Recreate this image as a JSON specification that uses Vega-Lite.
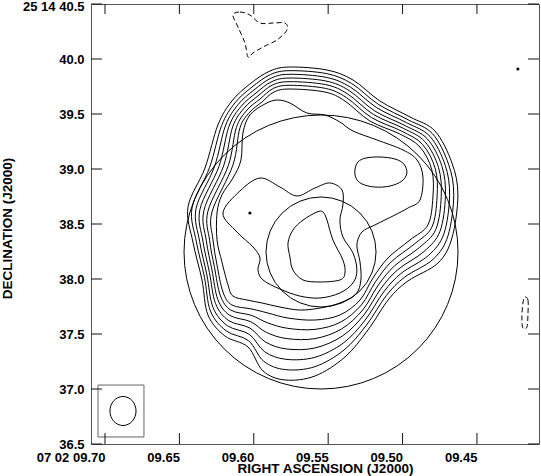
{
"$schema": "https://vega.github.io/schema/vega-lite/v6.json",
"width": 448, "height": 440,
"autosize": "none",
"padding": {"left": 91, "top": 4, "right": 2, "bottom": 32},
"background": "white",
"config": {"view": {"stroke": "#555", "strokeWidth": 1},
  "axis": {"labelFont": "Liberation Sans", "labelFontWeight": "bold", "labelFontSize": 13, "labelColor": "#000", "titleFont": "Liberation Sans", "titleFontWeight": "bold", "titleFontSize": 13.5, "titleColor": "#000", "grid": false, "domain": false, "ticks": false, "labelOverlap": false, "labelBound": false, "labelFlush": false}},
"datasets": {
 "tk": [
{"side":"h","v":9.70},{"side":"h","v":9.65},{"side":"h","v":9.60},{"side":"h","v":9.55},{"side":"h","v":9.50},{"side":"h","v":9.45},
{"side":"v","v":36.5},{"side":"v","v":37.0},{"side":"v","v":37.5},{"side":"v","v":38.0},{"side":"v","v":38.5},{"side":"v","v":39.0},{"side":"v","v":39.5},{"side":"v","v":40.0},{"side":"v","v":40.5}
 ],
 "cont": [
{"c":1,"i":1,"ra":9.6442,"dec":38.655},{"c":1,"i":2,"ra":9.6328,"dec":39.009},{"c":1,"i":3,"ra":9.6241,"dec":39.400},{"c":1,"i":4,"ra":9.6147,"dec":39.618},{"c":1,"i":5,"ra":9.6026,"dec":39.773},{"c":1,"i":6,"ra":9.5891,"dec":39.891},{"c":1,"i":7,"ra":9.5757,"dec":39.927},{"c":1,"i":8,"ra":9.5508,"dec":39.900},{"c":1,"i":9,"ra":9.5333,"dec":39.809},{"c":1,"i":10,"ra":9.5152,"dec":39.618},{"c":1,"i":11,"ra":9.4950,"dec":39.473},{"c":1,"i":12,"ra":9.4782,"dec":39.345},{"c":1,"i":13,"ra":9.4668,"dec":39.055},{"c":1,"i":14,"ra":9.4628,"dec":38.764},{"c":1,"i":15,"ra":9.4668,"dec":38.373},{"c":1,"i":16,"ra":9.4762,"dec":38.145},{"c":1,"i":17,"ra":9.4964,"dec":37.982},{"c":1,"i":18,"ra":9.5092,"dec":37.818},{"c":1,"i":19,"ra":9.5233,"dec":37.536},{"c":1,"i":20,"ra":9.5387,"dec":37.291},{"c":1,"i":21,"ra":9.5589,"dec":37.118},{"c":1,"i":22,"ra":9.5790,"dec":37.082},{"c":1,"i":23,"ra":9.5938,"dec":37.164},{"c":1,"i":24,"ra":9.6039,"dec":37.382},{"c":1,"i":25,"ra":9.6194,"dec":37.482},{"c":1,"i":26,"ra":9.6308,"dec":37.673},{"c":1,"i":27,"ra":9.6348,"dec":37.991},{"c":1,"i":28,"ra":9.6409,"dec":38.336},
{"c":2,"i":1,"ra":9.6415,"dec":38.647},{"c":2,"i":2,"ra":9.6297,"dec":39.014},{"c":2,"i":3,"ra":9.6216,"dec":39.395},{"c":2,"i":4,"ra":9.6126,"dec":39.602},{"c":2,"i":5,"ra":9.6012,"dec":39.745},{"c":2,"i":6,"ra":9.5887,"dec":39.859},{"c":2,"i":7,"ra":9.5757,"dec":39.894},{"c":2,"i":8,"ra":9.5510,"dec":39.867},{"c":2,"i":9,"ra":9.5342,"dec":39.777},{"c":2,"i":10,"ra":9.5163,"dec":39.588},{"c":2,"i":11,"ra":9.4962,"dec":39.447},{"c":2,"i":12,"ra":9.4799,"dec":39.321},{"c":2,"i":13,"ra":9.4691,"dec":39.044},{"c":2,"i":14,"ra":9.4656,"dec":38.761},{"c":2,"i":15,"ra":9.4695,"dec":38.392},{"c":2,"i":16,"ra":9.4794,"dec":38.180},{"c":2,"i":17,"ra":9.4986,"dec":38.017},{"c":2,"i":18,"ra":9.5109,"dec":37.850},{"c":2,"i":19,"ra":9.5242,"dec":37.582},{"c":2,"i":20,"ra":9.5393,"dec":37.355},{"c":2,"i":21,"ra":9.5589,"dec":37.203},{"c":2,"i":22,"ra":9.5787,"dec":37.176},{"c":2,"i":23,"ra":9.5933,"dec":37.252},{"c":2,"i":24,"ra":9.6035,"dec":37.439},{"c":2,"i":25,"ra":9.6186,"dec":37.529},{"c":2,"i":26,"ra":9.6291,"dec":37.708},{"c":2,"i":27,"ra":9.6331,"dec":38.014},{"c":2,"i":28,"ra":9.6386,"dec":38.339},
{"c":3,"i":1,"ra":9.6388,"dec":38.640},{"c":3,"i":2,"ra":9.6265,"dec":39.018},{"c":3,"i":3,"ra":9.6191,"dec":39.391},{"c":3,"i":4,"ra":9.6106,"dec":39.585},{"c":3,"i":5,"ra":9.5999,"dec":39.718},{"c":3,"i":6,"ra":9.5882,"dec":39.827},{"c":3,"i":7,"ra":9.5757,"dec":39.861},{"c":3,"i":8,"ra":9.5513,"dec":39.833},{"c":3,"i":9,"ra":9.5351,"dec":39.745},{"c":3,"i":10,"ra":9.5174,"dec":39.558},{"c":3,"i":11,"ra":9.4973,"dec":39.421},{"c":3,"i":12,"ra":9.4816,"dec":39.297},{"c":3,"i":13,"ra":9.4713,"dec":39.033},{"c":3,"i":14,"ra":9.4684,"dec":38.758},{"c":3,"i":15,"ra":9.4722,"dec":38.412},{"c":3,"i":16,"ra":9.4825,"dec":38.215},{"c":3,"i":17,"ra":9.5009,"dec":38.052},{"c":3,"i":18,"ra":9.5127,"dec":37.882},{"c":3,"i":19,"ra":9.5251,"dec":37.627},{"c":3,"i":20,"ra":9.5398,"dec":37.418},{"c":3,"i":21,"ra":9.5589,"dec":37.288},{"c":3,"i":22,"ra":9.5784,"dec":37.270},{"c":3,"i":23,"ra":9.5927,"dec":37.339},{"c":3,"i":24,"ra":9.6030,"dec":37.497},{"c":3,"i":25,"ra":9.6178,"dec":37.576},{"c":3,"i":26,"ra":9.6274,"dec":37.742},{"c":3,"i":27,"ra":9.6315,"dec":38.036},{"c":3,"i":28,"ra":9.6364,"dec":38.342},
{"c":4,"i":1,"ra":9.6362,"dec":38.632},{"c":4,"i":2,"ra":9.6234,"dec":39.023},{"c":4,"i":3,"ra":9.6167,"dec":39.386},{"c":4,"i":4,"ra":9.6086,"dec":39.568},{"c":4,"i":5,"ra":9.5985,"dec":39.691},{"c":4,"i":6,"ra":9.5878,"dec":39.795},{"c":4,"i":7,"ra":9.5757,"dec":39.827},{"c":4,"i":8,"ra":9.5515,"dec":39.800},{"c":4,"i":9,"ra":9.5360,"dec":39.714},{"c":4,"i":10,"ra":9.5186,"dec":39.527},{"c":4,"i":11,"ra":9.4984,"dec":39.395},{"c":4,"i":12,"ra":9.4833,"dec":39.273},{"c":4,"i":13,"ra":9.4735,"dec":39.023},{"c":4,"i":14,"ra":9.4712,"dec":38.755},{"c":4,"i":15,"ra":9.4749,"dec":38.432},{"c":4,"i":16,"ra":9.4856,"dec":38.250},{"c":4,"i":17,"ra":9.5031,"dec":38.086},{"c":4,"i":18,"ra":9.5145,"dec":37.914},{"c":4,"i":19,"ra":9.5260,"dec":37.673},{"c":4,"i":20,"ra":9.5404,"dec":37.482},{"c":4,"i":21,"ra":9.5589,"dec":37.373},{"c":4,"i":22,"ra":9.5780,"dec":37.364},{"c":4,"i":23,"ra":9.5921,"dec":37.427},{"c":4,"i":24,"ra":9.6026,"dec":37.554},{"c":4,"i":25,"ra":9.6170,"dec":37.623},{"c":4,"i":26,"ra":9.6257,"dec":37.777},{"c":4,"i":27,"ra":9.6298,"dec":38.059},{"c":4,"i":28,"ra":9.6342,"dec":38.345},
{"c":5,"i":1,"ra":9.6335,"dec":38.624},{"c":5,"i":2,"ra":9.6203,"dec":39.027},{"c":5,"i":3,"ra":9.6142,"dec":39.382},{"c":5,"i":4,"ra":9.6066,"dec":39.552},{"c":5,"i":5,"ra":9.5972,"dec":39.664},{"c":5,"i":6,"ra":9.5873,"dec":39.764},{"c":5,"i":7,"ra":9.5757,"dec":39.794},{"c":5,"i":8,"ra":9.5517,"dec":39.767},{"c":5,"i":9,"ra":9.5369,"dec":39.682},{"c":5,"i":10,"ra":9.5197,"dec":39.497},{"c":5,"i":11,"ra":9.4995,"dec":39.370},{"c":5,"i":12,"ra":9.4850,"dec":39.249},{"c":5,"i":13,"ra":9.4758,"dec":39.012},{"c":5,"i":14,"ra":9.4740,"dec":38.752},{"c":5,"i":15,"ra":9.4776,"dec":38.452},{"c":5,"i":16,"ra":9.4888,"dec":38.285},{"c":5,"i":17,"ra":9.5053,"dec":38.121},{"c":5,"i":18,"ra":9.5163,"dec":37.945},{"c":5,"i":19,"ra":9.5268,"dec":37.718},{"c":5,"i":20,"ra":9.5410,"dec":37.546},{"c":5,"i":21,"ra":9.5589,"dec":37.458},{"c":5,"i":22,"ra":9.5777,"dec":37.458},{"c":5,"i":23,"ra":9.5916,"dec":37.515},{"c":5,"i":24,"ra":9.6021,"dec":37.612},{"c":5,"i":25,"ra":9.6162,"dec":37.670},{"c":5,"i":26,"ra":9.6241,"dec":37.812},{"c":5,"i":27,"ra":9.6281,"dec":38.082},{"c":5,"i":28,"ra":9.6319,"dec":38.348},
{"c":6,"i":1,"ra":9.6308,"dec":38.617},{"c":6,"i":2,"ra":9.6171,"dec":39.032},{"c":6,"i":3,"ra":9.6117,"dec":39.377},{"c":6,"i":4,"ra":9.6046,"dec":39.535},{"c":6,"i":5,"ra":9.5958,"dec":39.636},{"c":6,"i":6,"ra":9.5869,"dec":39.732},{"c":6,"i":7,"ra":9.5757,"dec":39.761},{"c":6,"i":8,"ra":9.5519,"dec":39.733},{"c":6,"i":9,"ra":9.5378,"dec":39.650},{"c":6,"i":10,"ra":9.5208,"dec":39.467},{"c":6,"i":11,"ra":9.5006,"dec":39.344},{"c":6,"i":12,"ra":9.4866,"dec":39.224},{"c":6,"i":13,"ra":9.4780,"dec":39.002},{"c":6,"i":14,"ra":9.4768,"dec":38.748},{"c":6,"i":15,"ra":9.4803,"dec":38.471},{"c":6,"i":16,"ra":9.4919,"dec":38.320},{"c":6,"i":17,"ra":9.5076,"dec":38.156},{"c":6,"i":18,"ra":9.5181,"dec":37.977},{"c":6,"i":19,"ra":9.5277,"dec":37.764},{"c":6,"i":20,"ra":9.5415,"dec":37.609},{"c":6,"i":21,"ra":9.5589,"dec":37.542},{"c":6,"i":22,"ra":9.5774,"dec":37.552},{"c":6,"i":23,"ra":9.5910,"dec":37.603},{"c":6,"i":24,"ra":9.6017,"dec":37.670},{"c":6,"i":25,"ra":9.6154,"dec":37.717},{"c":6,"i":26,"ra":9.6224,"dec":37.847},{"c":6,"i":27,"ra":9.6264,"dec":38.105},{"c":6,"i":28,"ra":9.6297,"dec":38.352},
{"c":7,"i":1,"ra":9.6281,"dec":38.609},{"c":7,"i":2,"ra":9.6140,"dec":39.036},{"c":7,"i":3,"ra":9.6093,"dec":39.373},{"c":7,"i":4,"ra":9.6026,"dec":39.518},{"c":7,"i":5,"ra":9.5945,"dec":39.609},{"c":7,"i":6,"ra":9.5864,"dec":39.700},{"c":7,"i":7,"ra":9.5757,"dec":39.727},{"c":7,"i":8,"ra":9.5522,"dec":39.700},{"c":7,"i":9,"ra":9.5387,"dec":39.618},{"c":7,"i":10,"ra":9.5219,"dec":39.436},{"c":7,"i":11,"ra":9.5018,"dec":39.318},{"c":7,"i":12,"ra":9.4883,"dec":39.200},{"c":7,"i":13,"ra":9.4803,"dec":38.991},{"c":7,"i":14,"ra":9.4796,"dec":38.745},{"c":7,"i":15,"ra":9.4830,"dec":38.491},{"c":7,"i":16,"ra":9.4950,"dec":38.355},{"c":7,"i":17,"ra":9.5098,"dec":38.191},{"c":7,"i":18,"ra":9.5199,"dec":38.009},{"c":7,"i":19,"ra":9.5286,"dec":37.809},{"c":7,"i":20,"ra":9.5421,"dec":37.673},{"c":7,"i":21,"ra":9.5589,"dec":37.627},{"c":7,"i":22,"ra":9.5770,"dec":37.645},{"c":7,"i":23,"ra":9.5905,"dec":37.691},{"c":7,"i":24,"ra":9.6012,"dec":37.727},{"c":7,"i":25,"ra":9.6147,"dec":37.764},{"c":7,"i":26,"ra":9.6207,"dec":37.882},{"c":7,"i":27,"ra":9.6247,"dec":38.127},{"c":7,"i":28,"ra":9.6274,"dec":38.355},
{"c":8,"i":1,"ra":9.6247,"dec":38.600},{"c":8,"i":2,"ra":9.6214,"dec":38.764},{"c":8,"i":3,"ra":9.6140,"dec":38.918},{"c":8,"i":4,"ra":9.6086,"dec":39.082},{"c":8,"i":5,"ra":9.6073,"dec":39.327},{"c":8,"i":6,"ra":9.6026,"dec":39.491},{"c":8,"i":7,"ra":9.5925,"dec":39.591},{"c":8,"i":8,"ra":9.5844,"dec":39.627},{"c":8,"i":9,"ra":9.5757,"dec":39.600},{"c":8,"i":10,"ra":9.5643,"dec":39.509},{"c":8,"i":11,"ra":9.5522,"dec":39.491},{"c":8,"i":12,"ra":9.5421,"dec":39.427},{"c":8,"i":13,"ra":9.5333,"dec":39.345},{"c":8,"i":14,"ra":9.5172,"dec":39.264},{"c":8,"i":15,"ra":9.4997,"dec":39.173},{"c":8,"i":16,"ra":9.4903,"dec":39.082},{"c":8,"i":17,"ra":9.4863,"dec":38.927},{"c":8,"i":18,"ra":9.4883,"dec":38.718},{"c":8,"i":19,"ra":9.4964,"dec":38.645},{"c":8,"i":20,"ra":9.5051,"dec":38.582},{"c":8,"i":21,"ra":9.5186,"dec":38.491},{"c":8,"i":22,"ra":9.5273,"dec":38.427},{"c":8,"i":23,"ra":9.5307,"dec":38.309},{"c":8,"i":24,"ra":9.5286,"dec":38.155},{"c":8,"i":25,"ra":9.5280,"dec":37.991},{"c":8,"i":26,"ra":9.5313,"dec":37.864},{"c":8,"i":27,"ra":9.5421,"dec":37.782},{"c":8,"i":28,"ra":9.5555,"dec":37.736},{"c":8,"i":29,"ra":9.5690,"dec":37.718},{"c":8,"i":30,"ra":9.5824,"dec":37.745},{"c":8,"i":31,"ra":9.5945,"dec":37.782},{"c":8,"i":32,"ra":9.6046,"dec":37.809},{"c":8,"i":33,"ra":9.6140,"dec":37.845},{"c":8,"i":34,"ra":9.6173,"dec":37.945},{"c":8,"i":35,"ra":9.6214,"dec":38.155},{"c":8,"i":36,"ra":9.6247,"dec":38.355},
{"c":9,"i":1,"ra":9.6207,"dec":38.600},{"c":9,"i":2,"ra":9.6093,"dec":38.800},{"c":9,"i":3,"ra":9.5958,"dec":38.918},{"c":9,"i":4,"ra":9.5824,"dec":38.836},{"c":9,"i":5,"ra":9.5710,"dec":38.755},{"c":9,"i":6,"ra":9.5589,"dec":38.827},{"c":9,"i":7,"ra":9.5488,"dec":38.873},{"c":9,"i":8,"ra":9.5407,"dec":38.809},{"c":9,"i":9,"ra":9.5401,"dec":38.673},{"c":9,"i":10,"ra":9.5421,"dec":38.536},{"c":9,"i":11,"ra":9.5401,"dec":38.382},{"c":9,"i":12,"ra":9.5333,"dec":38.236},{"c":9,"i":13,"ra":9.5307,"dec":38.082},{"c":9,"i":14,"ra":9.5333,"dec":37.964},{"c":9,"i":15,"ra":9.5421,"dec":37.873},{"c":9,"i":16,"ra":9.5555,"dec":37.827},{"c":9,"i":17,"ra":9.5690,"dec":37.845},{"c":9,"i":18,"ra":9.5824,"dec":37.909},{"c":9,"i":19,"ra":9.5938,"dec":37.991},{"c":9,"i":20,"ra":9.5972,"dec":38.082},{"c":9,"i":21,"ra":9.5958,"dec":38.191},{"c":9,"i":22,"ra":9.6005,"dec":38.291},{"c":9,"i":23,"ra":9.6113,"dec":38.427},
{"c":11,"i":1,"ra":9.5575,"dec":38.609},{"c":11,"i":2,"ra":9.5535,"dec":38.609},{"c":11,"i":3,"ra":9.5508,"dec":38.536},{"c":11,"i":4,"ra":9.5468,"dec":38.355},{"c":11,"i":5,"ra":9.5401,"dec":38.173},{"c":11,"i":6,"ra":9.5387,"dec":38.055},{"c":11,"i":7,"ra":9.5421,"dec":37.991},{"c":11,"i":8,"ra":9.5555,"dec":37.973},{"c":11,"i":9,"ra":9.5669,"dec":37.991},{"c":11,"i":10,"ra":9.5737,"dec":38.082},{"c":11,"i":11,"ra":9.5757,"dec":38.200},{"c":11,"i":12,"ra":9.5770,"dec":38.327},{"c":11,"i":13,"ra":9.5737,"dec":38.445},{"c":11,"i":14,"ra":9.5669,"dec":38.536},
{"c":12,"i":1,"ra":9.5320,"dec":38.991},{"c":12,"i":2,"ra":9.5300,"dec":39.064},{"c":12,"i":3,"ra":9.5246,"dec":39.100},{"c":12,"i":4,"ra":9.5152,"dec":39.109},{"c":12,"i":5,"ra":9.5051,"dec":39.091},{"c":12,"i":6,"ra":9.4991,"dec":39.045},{"c":12,"i":7,"ra":9.4971,"dec":38.964},{"c":12,"i":8,"ra":9.5004,"dec":38.891},{"c":12,"i":9,"ra":9.5085,"dec":38.845},{"c":12,"i":10,"ra":9.5186,"dec":38.836},{"c":12,"i":11,"ra":9.5273,"dec":38.864},{"c":12,"i":12,"ra":9.5313,"dec":38.918}
 ],
 "neg": [
{"c":1,"i":1,"ra":9.6140,"dec":40.400},{"c":1,"i":2,"ra":9.6093,"dec":40.427},{"c":1,"i":3,"ra":9.6026,"dec":40.400},{"c":1,"i":4,"ra":9.5958,"dec":40.327},{"c":1,"i":5,"ra":9.5871,"dec":40.327},{"c":1,"i":6,"ra":9.5790,"dec":40.327},{"c":1,"i":7,"ra":9.5777,"dec":40.264},{"c":1,"i":8,"ra":9.5844,"dec":40.173},{"c":1,"i":9,"ra":9.5938,"dec":40.109},{"c":1,"i":10,"ra":9.6005,"dec":40.055},{"c":1,"i":11,"ra":9.6039,"dec":40.018},{"c":1,"i":12,"ra":9.6059,"dec":40.145},{"c":1,"i":13,"ra":9.6106,"dec":40.291},
{"c":2,"i":1,"ra":9.4178,"dec":37.836},{"c":2,"i":2,"ra":9.4157,"dec":37.809},{"c":2,"i":3,"ra":9.4157,"dec":37.691},{"c":2,"i":4,"ra":9.4164,"dec":37.564},{"c":2,"i":5,"ra":9.4191,"dec":37.555},{"c":2,"i":6,"ra":9.4198,"dec":37.655},{"c":2,"i":7,"ra":9.4191,"dec":37.782}
 ]
},
"layer": [
 {"data": {"name": "cont"}, "mark": {"type": "line", "interpolate": "cardinal-closed", "stroke": "#000", "strokeWidth": 1},
  "encoding": {
   "x": {"field": "ra", "type": "quantitative", "scale": {"domain": [9.4083, 9.7094], "reverse": true, "nice": false, "zero": false},
     "axis": {"orient": "bottom", "values": [9.7, 9.65, 9.6, 9.55, 9.5, 9.45], "labelPadding": 7, "labelAlign": "right", "labelDx": 3,
       "labelExpr": "abs(datum.value - 9.7) < 0.001 ? '07 02 09.70' : '0' + format(datum.value, '.2f')",
       "title": "RIGHT ASCENSION (J2000)", "titleX": 234, "titleY": 24, "titleBaseline": "middle", "titleAlign": "center"}},
   "y": {"field": "dec", "type": "quantitative", "scale": {"domain": [36.5, 40.5], "nice": false, "zero": false},
     "axis": {"orient": "left", "values": [36.5, 37, 37.5, 38, 38.5, 39, 39.5, 40, 40.5], "labelPadding": 7,
       "labelOffset": {"condition": {"test": "datum.value > 40.4", "value": 2}, "value": 0},
       "labelExpr": "datum.value > 40.4 ? '25 14 40.5' : format(datum.value, '.1f')",
       "title": "DECLINATION (J2000)", "titleX": -84, "titleY": 224, "titleBaseline": "middle", "titleAlign": "center", "titleAngle": -90}},
   "detail": {"field": "c", "type": "nominal"},
   "order": {"field": "i", "type": "quantitative"}}},
 {"data": {"name": "neg"}, "mark": {"type": "line", "interpolate": "cardinal-closed", "stroke": "#000", "strokeWidth": 1, "strokeDash": [5, 3]},
  "encoding": {
   "x": {"field": "ra", "type": "quantitative", "scale": {"domain": [9.4083, 9.7094], "reverse": true, "nice": false, "zero": false}, "axis": null},
   "y": {"field": "dec", "type": "quantitative", "scale": {"domain": [36.5, 40.5], "nice": false, "zero": false}, "axis": null},
   "detail": {"field": "c", "type": "nominal"},
   "order": {"field": "i", "type": "quantitative"}}},
 {"data": {"values": [{"ra": 9.5548, "dec": 38.2455}]}, "mark": {"type": "point", "shape": "circle", "filled": false, "size": 75076, "stroke": "#000", "strokeWidth": 1, "opacity": 1},
  "encoding": {
   "x": {"field": "ra", "type": "quantitative", "scale": {"domain": [9.4083, 9.7094], "reverse": true, "nice": false, "zero": false}, "axis": null},
   "y": {"field": "dec", "type": "quantitative", "scale": {"domain": [36.5, 40.5], "nice": false, "zero": false}, "axis": null}}},
 {"data": {"values": [{"ra": 9.5548, "dec": 38.2455}]}, "mark": {"type": "point", "shape": "circle", "filled": false, "size": 12100, "stroke": "#000", "strokeWidth": 1, "opacity": 1},
  "encoding": {
   "x": {"field": "ra", "type": "quantitative", "scale": {"domain": [9.4083, 9.7094], "reverse": true, "nice": false, "zero": false}, "axis": null},
   "y": {"field": "dec", "type": "quantitative", "scale": {"domain": [36.5, 40.5], "nice": false, "zero": false}, "axis": null}}},
 {"data": {"values": [{"ra": 9.6879, "dec": 36.800}]}, "mark": {"type": "point", "shape": "M -0.9 0 A 0.9 1 0 1 1 0.9 0 A 0.9 1 0 1 1 -0.9 0 Z", "filled": false, "size": 841, "stroke": "#000", "strokeWidth": 1, "opacity": 1},
  "encoding": {
   "x": {"field": "ra", "type": "quantitative", "scale": {"domain": [9.4083, 9.7094], "reverse": true, "nice": false, "zero": false}, "axis": null},
   "y": {"field": "dec", "type": "quantitative", "scale": {"domain": [36.5, 40.5], "nice": false, "zero": false}, "axis": null}}},
 {"data": {"values": [{"ra": 9.6026, "dec": 38.600}, {"ra": 9.4225, "dec": 39.909}]}, "mark": {"type": "point", "shape": "circle", "filled": true, "size": 10, "color": "#000", "opacity": 1},
  "encoding": {
   "x": {"field": "ra", "type": "quantitative", "scale": {"domain": [9.4083, 9.7094], "reverse": true, "nice": false, "zero": false}, "axis": null},
   "y": {"field": "dec", "type": "quantitative", "scale": {"domain": [36.5, 40.5], "nice": false, "zero": false}, "axis": null}}},
 {"data": {"values": [{"ra1": 9.7047, "ra2": 9.6738, "dec1": 36.564, "dec2": 37.036}]}, "mark": {"type": "rect", "fill": null, "stroke": "#666", "strokeWidth": 1},
  "encoding": {
   "x": {"field": "ra1", "type": "quantitative", "scale": {"domain": [9.4083, 9.7094], "reverse": true, "nice": false, "zero": false}, "axis": null},
   "x2": {"field": "ra2"},
   "y": {"field": "dec1", "type": "quantitative", "scale": {"domain": [36.5, 40.5], "nice": false, "zero": false}, "axis": null},
   "y2": {"field": "dec2"}}},
 {"data": {"name": "tk"}, "transform": [{"filter": "datum.side == 'h'"}], "mark": {"type": "tick", "orient": "vertical", "size": 11, "thickness": 1, "color": "#111", "opacity": 1},
  "encoding": {
   "x": {"field": "v", "type": "quantitative", "scale": {"domain": [9.4083, 9.7094], "reverse": true, "nice": false, "zero": false}, "axis": null},
   "y": {"datum": 36.55, "type": "quantitative", "scale": {"domain": [36.5, 40.5], "nice": false, "zero": false}, "axis": null}}},
 {"data": {"name": "tk"}, "transform": [{"filter": "datum.side == 'h'"}], "mark": {"type": "tick", "orient": "vertical", "size": 10, "thickness": 1, "color": "#111", "opacity": 1},
  "encoding": {
   "x": {"field": "v", "type": "quantitative", "scale": {"domain": [9.4083, 9.7094], "reverse": true, "nice": false, "zero": false}, "axis": null},
   "y": {"datum": 40.4545, "type": "quantitative", "scale": {"domain": [36.5, 40.5], "nice": false, "zero": false}, "axis": null}}},
 {"data": {"name": "tk"}, "transform": [{"filter": "datum.side == 'v'"}], "mark": {"type": "tick", "orient": "horizontal", "size": 11, "thickness": 1, "color": "#111", "opacity": 1},
  "encoding": {
   "y": {"field": "v", "type": "quantitative", "scale": {"domain": [36.5, 40.5], "nice": false, "zero": false}, "axis": null},
   "x": {"datum": 9.7057, "type": "quantitative", "scale": {"domain": [9.4083, 9.7094], "reverse": true, "nice": false, "zero": false}, "axis": null}}},
 {"data": {"name": "tk"}, "transform": [{"filter": "datum.side == 'v'"}], "mark": {"type": "tick", "orient": "horizontal", "size": 11, "thickness": 1, "color": "#111", "opacity": 1},
  "encoding": {
   "y": {"field": "v", "type": "quantitative", "scale": {"domain": [36.5, 40.5], "nice": false, "zero": false}, "axis": null},
   "x": {"datum": 9.4120, "type": "quantitative", "scale": {"domain": [9.4083, 9.7094], "reverse": true, "nice": false, "zero": false}, "axis": null}}}
],
"resolve": {"axis": {"x": "independent", "y": "independent"}}
}
